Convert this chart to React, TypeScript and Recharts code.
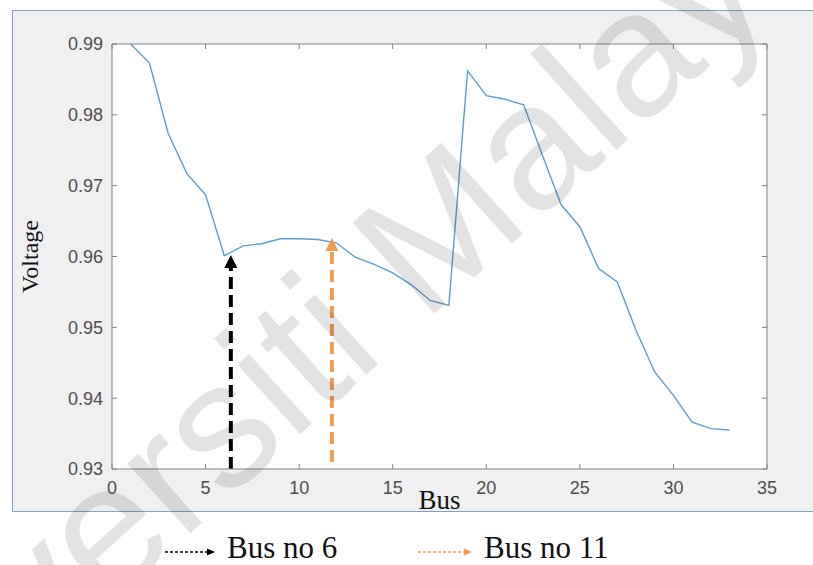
import React from 'react'
import { LineChart, Line, XAxis, YAxis, CartesianGrid, ReferenceLine } from 'recharts'

const buses = [1, 2, 3, 4, 5, 6, 7, 8, 9, 10, 11, 12, 13, 14, 15, 16, 17, 18, 19, 20, 21, 22, 23, 24, 25, 26, 27, 28, 29, 30, 31, 32, 33]
const voltage = [
  0.99, 0.9873, 0.9774, 0.9717, 0.9687, 0.9601, 0.9615, 0.9618, 0.9625, 0.9625, 0.9624,
  0.9619, 0.9599, 0.9589, 0.9577, 0.956, 0.9538, 0.9531, 0.9862, 0.9827, 0.9822,
  0.9814, 0.9743, 0.9673, 0.9642, 0.9583, 0.9564, 0.9496, 0.9437, 0.9404, 0.9366,
  0.9357, 0.9355,
]
const xTicks = [0, 5, 10, 15, 20, 25, 30, 35]
const yTicks = [0.93, 0.94, 0.95, 0.96, 0.97, 0.98, 0.99]

// annotation arrows (bus position, base and tip voltage)
const arrowLabels = ['Bus no 6', 'Bus no 11']
const arrowBus = [6.35, 11.75]
const arrowBase = [0.93, 0.931]
const arrowTip = [0.9602, 0.9626]
const arrowColors = ['#000000', '#f29a50']

const data = buses.map((b, i) => ({ bus: b, v: voltage[i] }))

const tickStyle = { fontFamily: 'Liberation Sans, Arial, sans-serif', fontSize: 18, fill: '#4d4d4d' }
const axisGray = '#808080'

function arrowShape(color: string) {
  return (p: any) => {
    const { x1, y1, x2, y2 } = p
    const head = 13
    return (
      <g>
        <line x1={x1} y1={y1} x2={x2} y2={y2 + head - 1} stroke={color} strokeWidth={4} strokeDasharray="12 6" />
        <polygon points={`${x2},${y2} ${x2 - 6.5},${y2 + head} ${x2 + 6.5},${y2 + head}`} fill={color} />
      </g>
    )
  }
}

export default function App() {
  return (
    <div style={{ position: 'absolute', left: 0, top: 0, width: 813, height: 565, overflow: 'hidden', background: '#fff' }}>
      <div
        style={{
          position: 'absolute', left: 12, top: 10, width: 820, height: 500,
          background: '#f0f0f0', border: '1.5px solid #7f9fcc',
        }}
      />
      <div style={{ position: 'absolute', left: 0, top: 0 }}>
        <LineChart width={813} height={565} data={data} margin={{ top: 43, right: 45, left: 12, bottom: 46 }}>
          <CartesianGrid horizontal={false} vertical={false} fill="#ffffff" fillOpacity={1} />
          <XAxis
            dataKey="bus" type="number" domain={[0, 35]} ticks={xTicks} height={50}
            stroke={axisGray} tickSize={-5} tickMargin={17} tick={tickStyle}
            label={(props: any) => {
              const vb = props.viewBox
              return (
                <text x={vb.x + vb.width / 2} y={509} textAnchor="middle"
                  style={{ fontFamily: 'Liberation Serif, Times New Roman, serif', fontSize: 27, fill: '#111' }}>
                  Bus
                </text>
              )
            }}
          />
          <XAxis xAxisId="top" orientation="top" dataKey="bus" type="number" domain={[0, 35]} ticks={xTicks}
            height={1} stroke={axisGray} tickSize={-5} tickFormatter={() => ''} />
          <YAxis
            type="number" domain={[0.93, 0.99]} ticks={yTicks} width={100}
            stroke={axisGray} tickSize={-5} tickMargin={14} tick={tickStyle}
            tickFormatter={(t: number) => t.toFixed(2)}
            label={(props: any) => {
              const vb = props.viewBox
              const cy = vb.y + vb.height / 2
              return (
                <text x={30} y={cy} textAnchor="middle" dominantBaseline="central" transform={`rotate(-90 30 ${cy})`}
                  style={{ fontFamily: 'Liberation Serif, Times New Roman, serif', fontSize: 24, fill: '#111' }}>
                  Voltage
                </text>
              )
            }}
          />
          <YAxis yAxisId="right" orientation="right" type="number" domain={[0.93, 0.99]} ticks={yTicks}
            width={1} stroke={axisGray} tickSize={-5} tickFormatter={() => ''} />
          <Line xAxisId="top" yAxisId="right" type="linear" dataKey="v" stroke="none" dot={false}
            isAnimationActive={false} legendType="none" />
          <Line type="linear" dataKey="v" stroke="#5b9fd2" strokeWidth={1.4} dot={false} isAnimationActive={false} />
          {arrowBus.map((b, i) => (
            <ReferenceLine
              key={arrowLabels[i]}
              segment={[{ x: b, y: arrowBase[i] }, { x: b, y: arrowTip[i] }]}
              shape={arrowShape(arrowColors[i])}
            />
          ))}
        </LineChart>
      </div>
      <svg width={813} height={565} style={{ position: 'absolute', left: 0, top: 0, pointerEvents: 'none' }}>
        <text x={0} y={0} transform="translate(-157 846) rotate(-42)"
          style={{ fontFamily: 'Liberation Sans, Arial, sans-serif', fontSize: 178, fill: 'rgba(0,0,0,0.11)' }}>
          Universiti Malaya
        </text>
        {arrowLabels.map((lab, i) => {
          const x0 = i === 0 ? 165 : 418
          const x1 = i === 0 ? 215 : 472
          return (
            <g key={lab}>
              <line x1={x0} y1={552} x2={x1 - 7} y2={552} stroke={arrowColors[i]} strokeWidth={1.3} strokeDasharray="3 2" />
              <polygon points={`${x1},552 ${x1 - 8},548.5 ${x1 - 8},555.5`} fill={arrowColors[i]} />
              <text x={x1 + 12} y={558}
                style={{ fontFamily: 'Liberation Serif, Times New Roman, serif', fontSize: 31, fill: '#111' }}>
                {lab}
              </text>
            </g>
          )
        })}
      </svg>
    </div>
  )
}
